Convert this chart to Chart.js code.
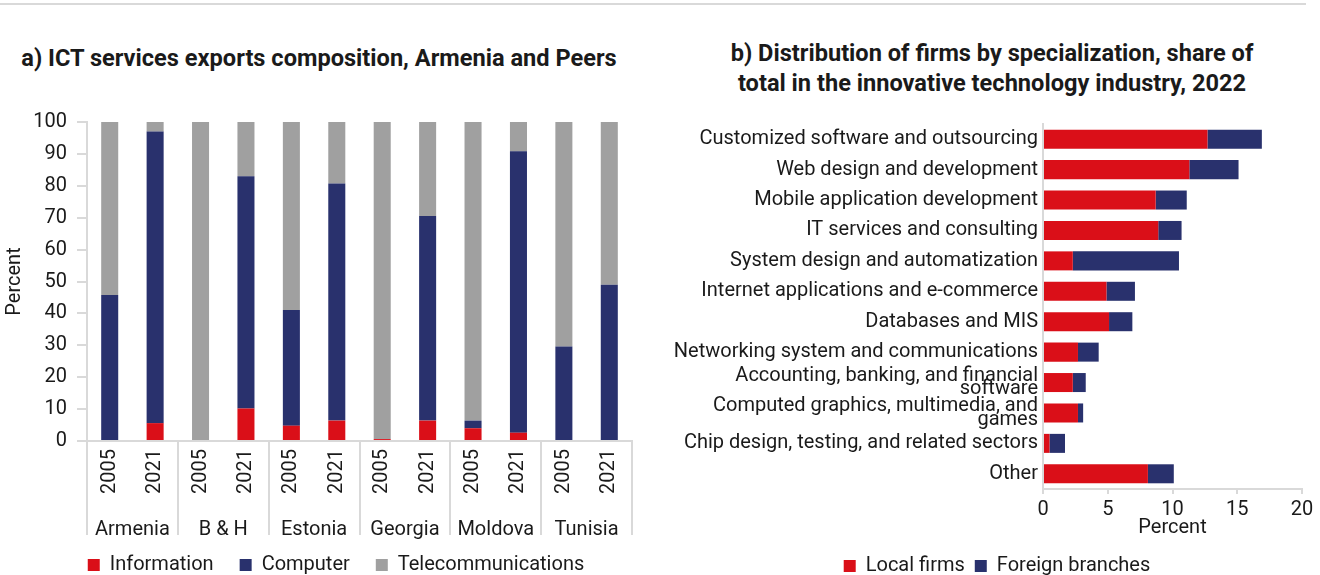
<!DOCTYPE html>
<html>
<head>
<meta charset="utf-8">
<script src="https://cdn.jsdelivr.net/npm/chart.js@4.4.1/dist/chart.umd.min.js"></script>
<style>
  html, body { margin: 0; padding: 0; background: #fff; overflow: hidden; }
  body { width: 1320px; height: 575px; position: relative; font-family: Roboto, "Noto Sans", sans-serif; color: #1a1a1a; }
  .rule { position: absolute; left: 0; top: 3px; width: 1306px; height: 2px; background: #d9d9d9; }
  .title { position: absolute; font-weight: 700; font-size: 23.6px; line-height: 30px; text-align: center; color: #1a1a1a; white-space: nowrap; }
  .box { position: absolute; }
</style>
</head>
<body>
<div class="rule"></div>
<div class="title" style="left:0; top:43px; width:638px;">a) ICT services exports composition, Armenia and Peers</div>
<div class="title" style="left:692px; top:38px; width:600px;">b) Distribution of firms by specialization, share of<br>total in the innovative technology industry, 2022</div>
<div class="box" style="left:0; top:100px; width:672px; height:485px;"><canvas id="exports"></canvas></div>
<div class="box" style="left:674px; top:100px; width:646px; height:486px;"><canvas id="firms"></canvas></div>
<script>
// ---- Panel a: ICT services exports composition (percent of total) ----
const countries = ['Armenia', 'B & H', 'Estonia', 'Georgia', 'Moldova', 'Tunisia'];
const periods = ['2005', '2021'];
const information    = [0, 5.6, 0, 10.2, 4.8, 6.4, 0.6, 6.4, 4.0, 2.6, 0, 0];
const computer       = [45.8, 91.4, 0, 72.8, 36.3, 74.3, 0, 64.1, 2.4, 88.2, 29.6, 49.0];
const telecom        = [54.2, 3.0, 100, 17.0, 58.9, 19.3, 99.4, 29.5, 93.6, 9.2, 70.4, 51.0];
const percentTicks   = [0, 10, 20, 30, 40, 50, 60, 70, 80, 90, 100];

// ---- Panel b: firms by specialization, 2022 (percent of total) ----
const specializations = [
  'Customized software and outsourcing',
  'Web design and development',
  'Mobile application development',
  'IT services and consulting',
  'System design and automatization',
  'Internet applications and e-commerce',
  'Databases and MIS',
  'Networking system and communications',
  ['Accounting, banking, and financial', 'software'],
  ['Computed graphics, multimedia, and', 'games'],
  'Chip design, testing, and related sectors',
  'Other'
];
const localFirms      = [12.7, 11.3, 8.7, 8.9, 2.3, 4.9, 5.1, 2.7, 2.3, 2.7, 0.5, 8.1];
const foreignBranches = [4.2, 3.8, 2.4, 1.8, 8.2, 2.2, 1.8, 1.6, 1.0, 0.4, 1.2, 2.0];
const shareTicks      = [0, 5, 10, 15, 20];

const RED = '#DA0F18';
const NAVY = '#29316D';
const GREY = '#A0A0A0';
const AXIS = '#d9d9d9';
const INK = '#1a1a1a';
const FONT = { family: 'Roboto', size: 20 };

Chart.defaults.font.family = 'Roboto';
Chart.defaults.color = INK;
Chart.defaults.animation = false;

// empty right-hand margin axis, keeps the legend centred under the whole panel
const gutter = (w) => ({
  type: 'linear',
  position: 'right',
  display: true,
  grid: { display: false, drawTicks: false },
  border: { display: false },
  ticks: { display: false },
  afterFit: (scale) => { scale.width = w; }
});

// one category per country/period pair
const periodLabels = countries.flatMap(() => periods);

new Chart(document.getElementById('exports'), {
  type: 'bar',
  data: {
    labels: periodLabels,
    datasets: [
      { label: 'Information', data: information, backgroundColor: RED },
      { label: 'Computer', data: computer, backgroundColor: NAVY },
      { label: 'Telecommunications', data: telecom, backgroundColor: GREY }
    ]
  },
  options: {
    responsive: true,
    maintainAspectRatio: false,
    layout: { padding: { top: 21, right: 0, left: 0, bottom: 0 } },
    datasets: { bar: { barPercentage: 0.375, categoryPercentage: 1 } },
    plugins: {
      legend: {
        position: 'bottom',
        labels: { boxWidth: 12, boxHeight: 12, padding: 26, font: FONT, color: INK }
      },
      tooltip: { enabled: false }
    },
    scales: {
      x: {
        stacked: true,
        weight: 0,
        grid: {
          offset: true,
          drawOnChartArea: false,
          tickLength: 94,
          lineWidth: 2,
          // separators only between country groups
          color: (ctx) => (ctx.index === undefined || ctx.index % 2 === 0) ? AXIS : 'rgba(0,0,0,0)'
        },
        border: { color: AXIS, width: 2 },
        ticks: { autoSkip: false, minRotation: 90, maxRotation: 90, padding: -86, font: FONT, color: INK },
        afterFit: (scale) => { scale.height = 54; }
      },
      x2: {
        type: 'category',
        position: 'bottom',
        weight: 1,
        labels: countries,
        offset: true,
        grid: { display: false, drawTicks: false },
        border: { display: false },
        ticks: { mirror: true, padding: -47, font: FONT, color: INK, autoSkip: false, maxRotation: 0 },
        afterFit: (scale) => { scale.height = 34; }
      },
      y: {
        stacked: true,
        min: 0,
        max: 100,
        afterBuildTicks: (scale) => { scale.ticks = percentTicks.map(v => ({ value: v })); },
        grid: { drawOnChartArea: false, tickLength: 10, lineWidth: 2, color: AXIS },
        border: { color: AXIS, width: 2 },
        ticks: { padding: 10, font: FONT, color: INK },
        title: { display: true, text: 'Percent', font: FONT, color: INK, padding: { top: 2.5, bottom: 4 } },
        afterFit: (scale) => { scale.width = 87; }
      },
      margin: gutter(40)
    }
  }
});

new Chart(document.getElementById('firms'), {
  type: 'bar',
  data: {
    labels: specializations,
    datasets: [
      { label: 'Local firms', data: localFirms, backgroundColor: RED },
      { label: 'Foreign branches', data: foreignBranches, backgroundColor: NAVY }
    ]
  },
  options: {
    indexAxis: 'y',
    responsive: true,
    maintainAspectRatio: false,
    layout: { padding: { top: 24, right: 0, left: 0, bottom: 0 } },
    datasets: { bar: { barPercentage: 0.625, categoryPercentage: 1 } },
    plugins: {
      legend: {
        position: 'bottom',
        labels: { boxWidth: 12, boxHeight: 12, padding: 10, font: FONT, color: INK }
      },
      tooltip: { enabled: false }
    },
    scales: {
      x: {
        stacked: true,
        min: 0,
        max: 20,
        afterBuildTicks: (scale) => { scale.ticks = shareTicks.map(v => ({ value: v })); },
        ticks: { padding: 4, font: FONT, color: INK, maxRotation: 0 },
        grid: { drawOnChartArea: false, tickLength: 5, lineWidth: 2, color: AXIS },
        border: { color: AXIS, width: 2 },
        title: { display: true, text: 'Percent', font: FONT, color: INK, padding: { top: 0, bottom: 6 } },
        afterFit: (scale) => { scale.height = 57; }
      },
      y: {
        stacked: true,
        grid: { display: false, drawTicks: false },
        border: { color: AXIS, width: 2 },
        ticks: { autoSkip: false, padding: 5, font: { family: 'Roboto', size: 20, lineHeight: 0.68 }, color: INK },
        afterFit: (scale) => { scale.width = 369; }
      },
      margin: gutter(18)
    }
  }
});
</script>
</body>
</html>
